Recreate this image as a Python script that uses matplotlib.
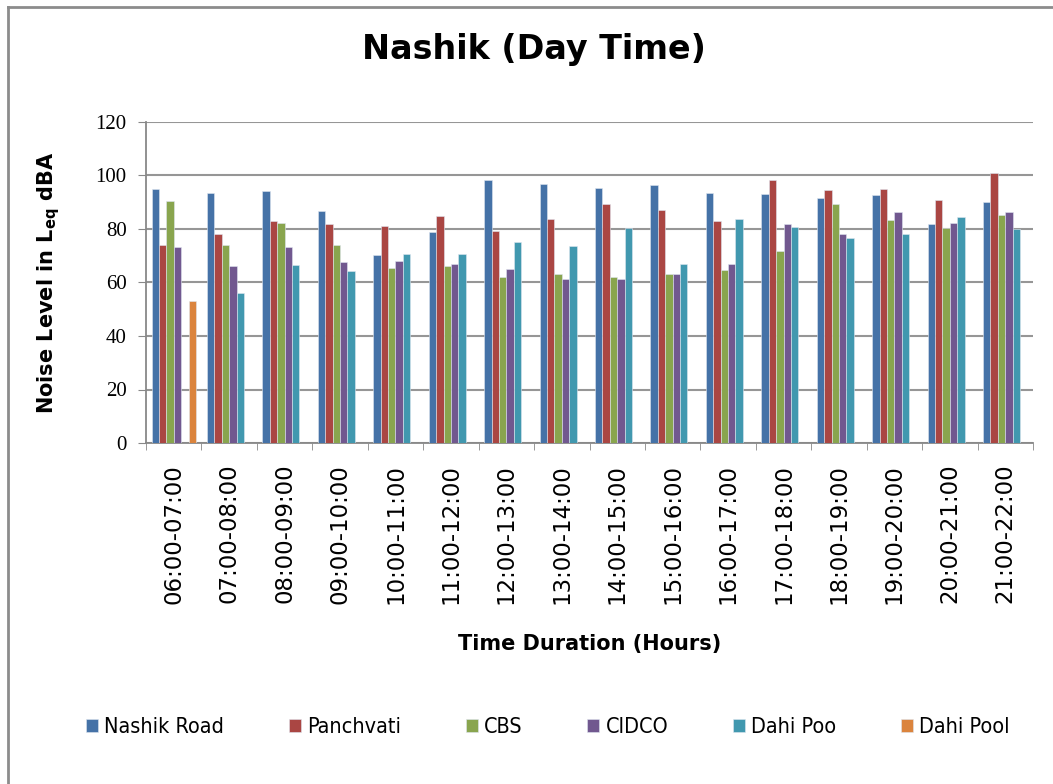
import numpy as np
import matplotlib.pyplot as plt
from matplotlib.lines import Line2D

slots = ['06:00-07:00', '07:00-08:00', '08:00-09:00', '09:00-10:00',
         '10:00-11:00', '11:00-12:00', '12:00-13:00', '13:00-14:00',
         '14:00-15:00', '15:00-16:00', '16:00-17:00', '17:00-18:00',
         '18:00-19:00', '19:00-20:00', '20:00-21:00', '21:00-22:00']

nashik_road = [95.0, 93.6, 94.1, 86.6, 70.1, 78.9, 98.5, 97.0,
               95.5, 96.5, 93.6, 93.1, 91.6, 92.6, 81.9, 90.1]
panchvati = [73.9, 78.0, 82.9, 81.9, 81.2, 84.7, 79.4, 83.7,
             89.2, 87.2, 82.9, 98.5, 94.6, 95.0, 90.7, 100.9]
cbs = [90.6, 73.9, 82.4, 73.9, 65.6, 66.1, 62.2, 63.2,
       62.2, 63.2, 64.7, 71.6, 89.2, 83.4, 80.2, 85.2]
cidco = [73.1, 66.2, 73.1, 67.6, 68.2, 67.1, 64.9, 61.2,
         61.2, 63.2, 67.1, 81.9, 78.0, 86.2, 82.4, 86.2]
dahi_poo = [np.nan, 55.9, 66.7, 64.2, 70.5, 70.5, 75.0, 73.5,
            80.2, 67.1, 83.9, 80.9, 76.5, 78.0, 84.4, 80.0]
dahi_pool = [52.9] + [np.nan] * 15

series = {
    'Nashik Road': nashik_road,
    'Panchvati': panchvati,
    'CBS': cbs,
    'CIDCO': cidco,
    'Dahi Poo': dahi_poo,
    'Dahi Pool': dahi_pool,
}
colors = ['#4572A7', '#AA4643', '#89A54E', '#71588F', '#4198AF', '#DB843D']

plt.rcParams['mathtext.fontset'] = 'dejavusans'

fig = plt.figure(figsize=(10.53, 7.84), dpi=100)
ax = fig.add_axes([146 / 1053, 341 / 784, 887 / 1053, 321 / 784])

n = len(series)
w = 1 / (n + 1.5)
x = np.arange(len(slots))
handles = []
for i, (name, vals) in enumerate(series.items()):
    off = (i - (n - 1) / 2) * w
    b = ax.bar(x + off, vals, width=w, color=colors[i], label=name,
               edgecolor='#dfe6f0', linewidth=0.4, zorder=3)
    handles.append(b)

ax.set_xlim(-0.5, len(slots) - 0.5)
ax.set_ylim(0, 120)
ax.set_yticks(range(0, 121, 20))
ax.set_yticklabels([str(v) for v in range(0, 121, 20)],
                   family='Liberation Serif', fontsize=15)
ax.set_xticks(x)
ax.set_xticklabels(slots, rotation=90, fontsize=16.5, family='DejaVu Sans')
ax.set_xticks(np.arange(-0.5, len(slots), 1), minor=True)
ax.tick_params(axis='x', which='major', length=0, pad=15)
ax.tick_params(axis='x', which='minor', length=5, color='#888888', direction='out')
ax.tick_params(axis='y', length=6, color='#888888', pad=8)

ax.grid(axis='y', color='#969696', linewidth=1.5, zorder=0)
for s in ['top', 'right']:
    ax.spines[s].set_visible(False)
for s in ['left', 'bottom']:
    ax.spines[s].set_color('#888888')
    ax.spines[s].set_linewidth(1.3)

ax.set_ylabel(r'Noise Level in L$_\mathbf{eq}$ dBA', fontsize=15,
              fontweight='bold', labelpad=24)
ax.set_xlabel('Time Duration (Hours)', fontsize=15, fontweight='bold', labelpad=22)

fig.text(534 / 1053, 1 - 50 / 784, 'Nashik (Day Time)', ha='center', va='center',
         fontsize=24, fontweight='bold')

fig.legend(handles=handles, loc='center', ncol=6, frameon=False,
           bbox_to_anchor=(548 / 1053, 1 - 727 / 784),
           handlelength=0.55, handleheight=0.55, handletextpad=0.3,
           columnspacing=3.0, prop={'size': 15.5, 'stretch': 'condensed'})

# chart border (top and left edges visible)
fig.add_artist(Line2D([8 / 1053, 8 / 1053], [0, 1 - 7 / 784], transform=fig.transFigure,
                      color='#8c8c8c', linewidth=2))
fig.add_artist(Line2D([8 / 1053, 1], [1 - 7 / 784, 1 - 7 / 784], transform=fig.transFigure,
                      color='#8c8c8c', linewidth=2))

fig.savefig('out.png', dpi=100)
